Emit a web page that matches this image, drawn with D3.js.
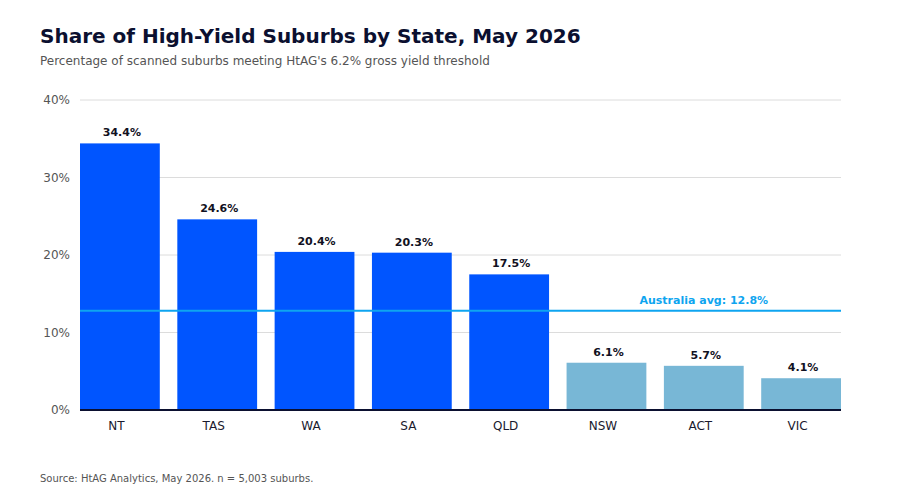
<!DOCTYPE html>
<html>
<head>
<meta charset="utf-8">
<script src="https://cdn.jsdelivr.net/npm/d3@7"></script>
<style>
  body { margin: 0; background: #fff; }
  text { font-family: "DejaVu Sans", sans-serif; }
</style>
</head>
<body>
<div id="chart"></div>
<script>
const states = ['NT', 'TAS', 'WA', 'SA', 'QLD', 'NSW', 'ACT', 'VIC'];
const shares = [34.4, 24.6, 20.4, 20.3, 17.5, 6.1, 5.7, 4.1];
const aboveAvg = [true, true, true, true, true, false, false, false];
const yTicks = [0, 10, 20, 30, 40];
const avgShare = 12.8;

const width = 900;
const height = 500;
const margin = { top: 100, right: 59, bottom: 90, left: 80 };

const svg = d3.select("#chart")
  .append("svg")
  .attr("width", width)
  .attr("height", height);

const x = d3.scaleBand()
  .domain(states)
  .range([margin.left, width - margin.right])
  .paddingInner(0.18)
  .paddingOuter(0);

const y = d3.scaleLinear()
  .domain([0, 40])
  .range([height - margin.bottom, margin.top]);

// title
svg.append("text")
  .attr("x", 40)
  .attr("y", 43)
  .style("font-size", "20px")
  .style("font-weight", "bold")
  .style("fill", "#0b1030")
  .text("Share of High-Yield Suburbs by State, May 2026");

svg.append("text")
  .attr("x", 40)
  .attr("y", 65)
  .style("font-size", "12px")
  .style("fill", "#555")
  .text("Percentage of scanned suburbs meeting HtAG's 6.2% gross yield threshold");

// grid
svg.append("g")
  .selectAll("line")
  .data(yTicks.filter(d => d > 0))
  .enter()
  .append("line")
  .attr("x1", margin.left)
  .attr("x2", width - margin.right)
  .attr("y1", d => y(d))
  .attr("y2", d => y(d))
  .attr("stroke", "#dcdcdc")
  .attr("stroke-width", 1);

// y axis labels
const yAxis = svg.append("g")
  .attr("transform", `translate(${margin.left},0)`)
  .call(d3.axisLeft(y).tickValues(yTicks).tickFormat(d => d + "%").tickSize(0).tickPadding(10));
yAxis.select(".domain").remove();
yAxis.selectAll("text")
  .style("font-family", "DejaVu Sans, sans-serif")
  .style("font-size", "12px")
  .style("fill", "#555");

// bars
svg.append("g")
  .selectAll("rect")
  .data(states)
  .enter()
  .append("rect")
  .attr("x", d => x(d))
  .attr("y", (d, i) => y(shares[i]))
  .attr("width", x.bandwidth())
  .attr("height", (d, i) => y(0) - y(shares[i]))
  .attr("fill", (d, i) => aboveAvg[i] ? "#0055ff" : "#78b7d6");

// value labels
svg.append("g")
  .selectAll("text")
  .data(states)
  .enter()
  .append("text")
  .attr("x", d => x(d) + x.bandwidth() / 2 + 2)
  .attr("y", (d, i) => y(shares[i]) - 7)
  .attr("text-anchor", "middle")
  .style("font-size", "11px")
  .style("font-weight", "bold")
  .style("fill", "#111122")
  .text((d, i) => shares[i].toFixed(1) + "%");

// baseline
svg.append("line")
  .attr("x1", margin.left)
  .attr("x2", width - margin.right)
  .attr("y1", y(0))
  .attr("y2", y(0))
  .attr("stroke", "#0b1030")
  .attr("stroke-width", 2);

// x axis
const xAxis = svg.append("g")
  .attr("transform", `translate(0,${y(0) + 1})`)
  .call(d3.axisBottom(x).tickSize(0).tickPadding(10));
xAxis.select(".domain").remove();
xAxis.selectAll("text")
  .attr("dx", -3.5)
  .style("font-family", "DejaVu Sans, sans-serif")
  .style("font-size", "12px")
  .style("fill", "#1a1a2e");

// average line
svg.append("line")
  .attr("x1", margin.left)
  .attr("x2", width - margin.right)
  .attr("y1", y(avgShare))
  .attr("y2", y(avgShare))
  .attr("stroke", "#0ea5f0")
  .attr("stroke-width", 2);

svg.append("text")
  .attr("x", x('ACT') + x.bandwidth() / 2)
  .attr("y", y(avgShare) - 7)
  .attr("text-anchor", "middle")
  .style("font-size", "11px")
  .style("font-weight", "bold")
  .style("fill", "#0ea5f0")
  .text("Australia avg: " + avgShare + "%");

// source
svg.append("text")
  .attr("x", 40)
  .attr("y", 482)
  .style("font-size", "10px")
  .style("fill", "#555")
  .text("Source: HtAG Analytics, May 2026. n = 5,003 suburbs.");
</script>
</body>
</html>
